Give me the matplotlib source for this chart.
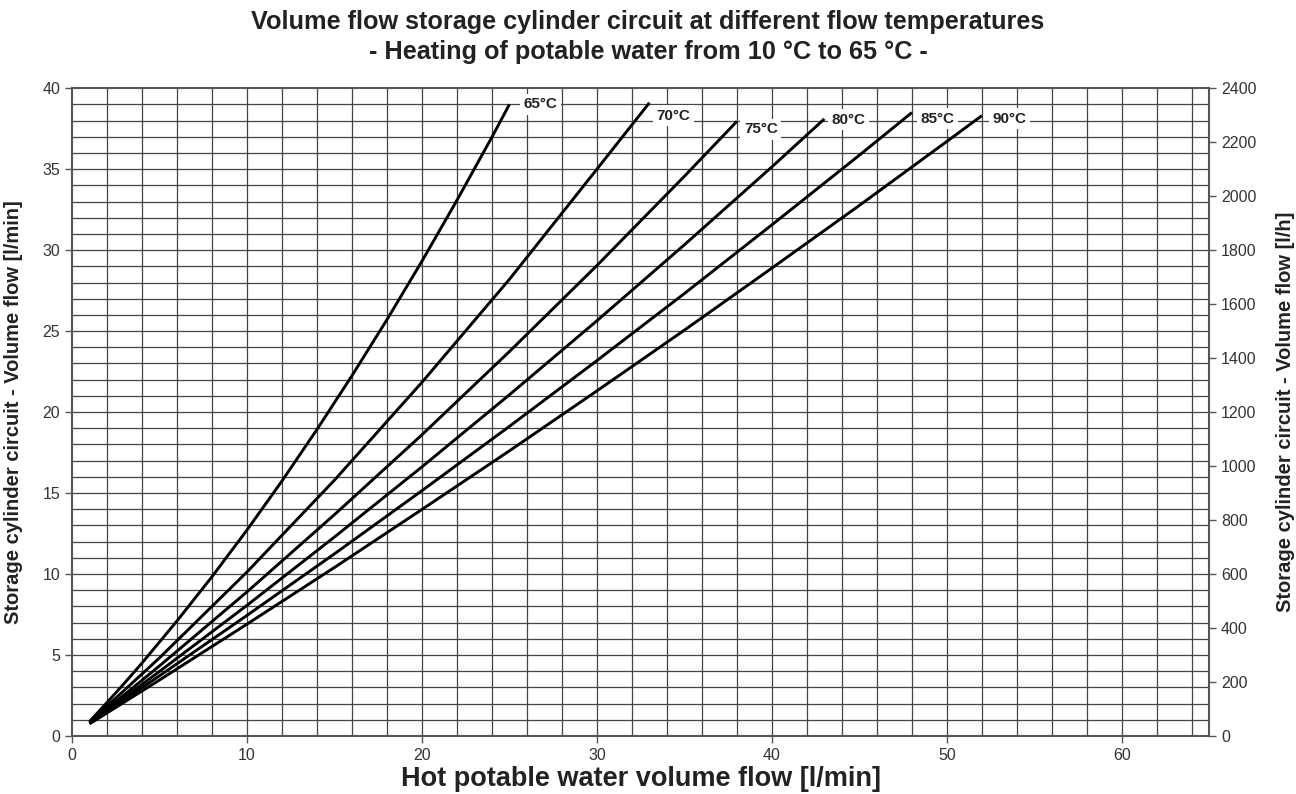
import numpy as np
import matplotlib.pyplot as plt

plt.rcParams['font.family'] = ['Liberation Sans', 'DejaVu Sans']

# flow temperatures
temps = ['65°C', '70°C', '75°C', '80°C', '85°C', '90°C']

# hot potable water flow [l/min] vs storage cylinder flow [l/min]
x65 = [1, 2, 3, 4, 6, 8, 10, 12, 14, 16, 18, 20, 22, 24, 25]
y65 = [0.9, 2.07, 3.27, 4.51, 7.11, 9.84, 12.72, 15.75, 18.93, 22.25, 25.71, 29.32, 33.08, 36.98, 39.0]
x70 = [1, 5, 10, 15, 20, 25, 30, 33]
y70 = [0.85, 4.83, 10.13, 15.8, 21.84, 28.2, 35.0, 39.1]
x75 = [1, 5, 10, 15, 20, 25, 30, 35, 38]
y75 = [0.8, 4.33, 8.9, 13.67, 18.6, 23.74, 29.05, 34.56, 37.95]
x80 = [1, 5, 10, 15, 20, 25, 30, 35, 40, 43]
y80 = [0.8, 3.99, 8.07, 12.29, 16.62, 21.07, 25.64, 30.33, 35.14, 38.1]
x85 = [1, 5, 10, 15, 20, 25, 30, 35, 40, 45, 48]
y85 = [0.8, 3.72, 7.45, 11.25, 15.15, 19.12, 23.18, 27.32, 31.56, 35.86, 38.49]
x90 = [1, 5, 10, 15, 20, 25, 30, 35, 40, 45, 50, 52]
y90 = [0.75, 3.46, 6.91, 10.41, 13.99, 17.61, 21.31, 25.06, 28.89, 32.76, 36.71, 38.3]

# label anchor points (next to the end of each curve)
label_x = [25.8, 33.4, 38.4, 43.4, 48.5, 52.6]
label_y = [39.0, 38.3, 37.45, 38.05, 38.1, 38.1]

xs = [x65, x70, x75, x80, x85, x90]
ys = [y65, y70, y75, y80, y85, y90]

fig = plt.figure(figsize=(12.96, 7.94), dpi=100)
ax = fig.add_axes([0.0556, 0.073, 0.8775, 0.816])

# grid
for gx in np.arange(2, 65, 2):
    ax.axvline(gx, color='#444444', lw=0.9, zorder=1)
for gy in np.arange(1, 40, 1):
    ax.axhline(gy, color='#444444', lw=0.9, zorder=1)

for x, y in zip(xs, ys):
    ax.plot(x, y, color='black', lw=2.1, zorder=3, solid_capstyle='butt')

for t, lx, ly in zip(temps, label_x, label_y):
    ax.text(lx, ly, t, fontsize=11, fontweight='bold', color='#222222',
            ha='left', va='center', zorder=4,
            bbox=dict(facecolor='white', edgecolor='none', pad=2.5))

ax.set_xlim(0, 65)
ax.set_ylim(0, 40)
ax.set_xticks(np.arange(0, 61, 10))
ax.set_yticks(np.arange(0, 41, 5))
for s in ax.spines.values():
    s.set_color('#555555')
    s.set_linewidth(1.5)
ax.tick_params(direction='out', length=5, width=1, color='#555555',
               labelsize=11.5, labelcolor='#333333')

ax.set_xlabel('Hot potable water volume flow [l/min]', fontsize=19.5,
              fontweight='bold', color='#222222', labelpad=2)
ax.set_ylabel('Storage cylinder circuit - Volume flow [l/min]', fontsize=14.5,
              fontweight='bold', color='#222222', labelpad=14)

ax2 = ax.twinx()
ax2.set_ylim(0, 2400)
ax2.set_yticks(np.arange(0, 2401, 200))
ax2.tick_params(direction='out', length=5, width=1, color='#555555',
                labelsize=11.5, labelcolor='#333333')
for s in ax2.spines.values():
    s.set_visible(False)
ax2.set_ylabel('Storage cylinder circuit - Volume flow [l/h]', fontsize=14.5,
               fontweight='bold', color='#222222', labelpad=14)

fig.text(0.5, 0.972, 'Volume flow storage cylinder circuit at different flow temperatures',
         ha='center', va='center', fontsize=18.2, fontweight='bold', color='#222222')
fig.text(0.5, 0.934, '- Heating of potable water from 10 °C to 65 °C -',
         ha='center', va='center', fontsize=18.2, fontweight='bold', color='#222222')

fig.savefig('out.png', dpi=100)
